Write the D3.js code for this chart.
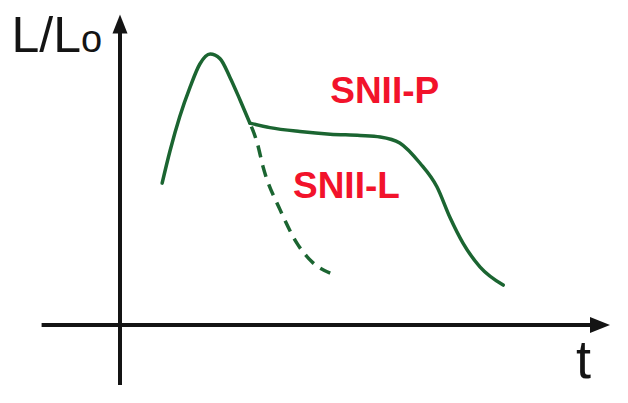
<!DOCTYPE html>
<html>
<head>
<meta charset="utf-8">
<script src="https://cdn.jsdelivr.net/npm/d3@7"></script>
<style>
  html, body { margin: 0; padding: 0; background: #fff; }
  svg { display: block; }
</style>
</head>
<body>
<svg id="chart" width="628" height="403"></svg>
<script>
// ---- data (arbitrary units: t along x, L/Lo along y) ----
// common rise and fall up to the junction where the two types split
const riseT = [8.6, 10.2, 12.2, 14.3, 16.3, 18.4, 20.4, 22.4, 24.5, 26.5];
const riseL = [4.73, 5.8, 6.95, 7.93, 8.7, 9.03, 8.88, 8.27, 7.5, 6.73];
// SNII-P: plateau then drop
const plateauT = [26.5, 30.6, 36.7, 42.9, 49.0, 53.1, 57.1, 61.2, 64.7, 67.3, 70.0, 73.5, 78.2];
const plateauL = [6.73, 6.58, 6.45, 6.36, 6.32, 6.27, 6.07, 5.4, 4.6, 3.6, 2.73, 1.93, 1.33];
// SNII-L: linear decline (dashed)
const linearT = [26.5, 28.0, 29.2, 32.7, 36.1, 39.4, 42.9];
const linearL = [6.73, 6.07, 5.27, 3.83, 2.73, 2.07, 1.73];
// series labels
const seriesNames = ["SNII-P", "SNII-L"];
const labelT = [42.9, 35.3];
const labelL = [7.4, 4.23];
// axis extents and titles
const xAxisExtent = [-16, 100];
const yAxisExtent = [-2, 10.35];
const yTitle = ["L/L", "o"];
const xTitle = "t";

// ---- scales ----
const x = d3.scaleLinear().domain([0, 100]).range([120, 610]);
const y = d3.scaleLinear().domain([0, 10]).range([325, 25]);

const svg = d3.select("#chart");
svg.append("rect").attr("width", 628).attr("height", 403).attr("fill", "#fff");

const axisColor = "#141414";
// x axis
svg.append("line")
  .attr("x1", x(xAxisExtent[0])).attr("x2", x(xAxisExtent[1]) - 14)
  .attr("y1", y(0)).attr("y2", y(0))
  .attr("stroke", axisColor).attr("stroke-width", 4);
svg.append("path")
  .attr("d", `M${x(xAxisExtent[1])},${y(0)} L${x(xAxisExtent[1]) - 20},${y(0) - 8} L${x(xAxisExtent[1]) - 20},${y(0) + 8} Z`)
  .attr("fill", axisColor);
// y axis
svg.append("line")
  .attr("x1", x(0)).attr("x2", x(0))
  .attr("y1", y(yAxisExtent[0])).attr("y2", y(yAxisExtent[1]) + 14)
  .attr("stroke", axisColor).attr("stroke-width", 4);
svg.append("path")
  .attr("d", `M${x(0)},${y(yAxisExtent[1])} L${x(0) - 7.5},${y(yAxisExtent[1]) + 19} L${x(0) + 7.5},${y(yAxisExtent[1]) + 19} Z`)
  .attr("fill", axisColor);

// axis titles
const yt = svg.append("text")
  .attr("x", 11.5).attr("y", 52)
  .attr("font-family", "Liberation Sans, Arial, sans-serif")
  .attr("font-size", 50).attr("fill", axisColor);
yt.append("tspan").text(yTitle[0]);
yt.append("tspan").attr("font-size", 38).text(yTitle[1]);

svg.append("text")
  .attr("x", 576).attr("y", 378)
  .attr("font-family", "Liberation Sans, Arial, sans-serif")
  .attr("font-size", 54).attr("fill", axisColor)
  .text(xTitle);

// curves
const green = "#1b6531";
const line = d3.line().x(d => x(d[0])).y(d => y(d[1])).curve(d3.curveMonotoneX);
const zip = (a, b) => a.map((v, i) => [v, b[i]]);

svg.append("path").datum(zip(riseT, riseL))
  .attr("d", line).attr("fill", "none")
  .attr("stroke", green).attr("stroke-width", 3.5).attr("stroke-linecap", "round");
svg.append("path").datum(zip(plateauT, plateauL))
  .attr("d", line).attr("fill", "none")
  .attr("stroke", green).attr("stroke-width", 3.5).attr("stroke-linecap", "round");
svg.append("path").datum(zip(linearT, linearL))
  .attr("d", line).attr("fill", "none")
  .attr("stroke", green).attr("stroke-width", 3.5)
  .attr("stroke-dasharray", "12,8").attr("stroke-dashoffset", -4);

// series labels
svg.selectAll("text.series").data(seriesNames).join("text")
  .attr("class", "series")
  .attr("x", (d, i) => x(labelT[i]))
  .attr("y", (d, i) => y(labelL[i]))
  .attr("font-family", "Liberation Sans, Arial, sans-serif")
  .attr("font-weight", "bold")
  .attr("font-size", 37)
  .attr("fill", "#f2132b")
  .text(d => d);
</script>
</body>
</html>
